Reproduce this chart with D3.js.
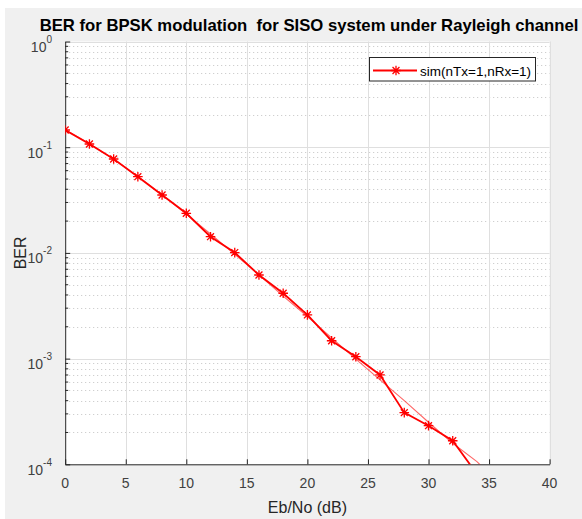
<!DOCTYPE html>
<html>
<head>
<meta charset="utf-8">
<script src="https://cdn.jsdelivr.net/npm/d3@7"></script>
<style>
  body { margin: 0; background: #fff; }
  text { font-family: "Liberation Sans", Arial, sans-serif; }
</style>
</head>
<body>
<svg id="chart" width="582" height="519"></svg>
<script>
// simulated BER
const ebNoSim = [0, 2, 4, 6, 8, 10, 12, 14, 16, 18, 20, 22, 24, 26, 28, 30, 32, 34]
const berSim = [0.1455, 0.1072, 0.0773, 0.0526, 0.0353, 0.0237, 0.01423, 0.01007, 0.00618,
  0.00415, 0.00259, 0.001476, 0.001042, 0.000700, 0.000308, 0.000232, 0.000167, 0.000081]

// theory curve (thin line under the sim one)
const ebNoTheory = [0, 2, 4, 6, 8, 10, 12, 14, 16, 18, 20, 22, 24, 26, 28, 30, 32, 34, 36, 38, 40]
const berTheory = [0.146, 0.1085, 0.0771, 0.053, 0.0355, 0.0233, 0.0151, 0.0097, 0.0062, 0.0039,
  0.0025, 0.00157, 0.00099, 0.00063, 0.0004, 0.00025, 0.000158, 0.000106, 0.000063, 0.00004, 0.000025]

const xTicks = [0, 5, 10, 15, 20, 25, 30, 35, 40]
const yExponents = [-4, -3, -2, -1, 0]

const titleText = "BER for BPSK modulation\u00a0 for SISO system under Rayleigh channel"
const xLabel = "Eb/No (dB)"
const yLabel = "BER"
const legendLabel = "sim(nTx=1,nRx=1)"

const W = 582, H = 519
const m = { left: 65.2, right: 549.6, top: 41.5, bottom: 464.3 }
const axisColor = "#262626"
const red = "#ff0000"

const svg = d3.select("#chart")

// figure background
svg.append("rect").attr("width", W).attr("height", H).attr("fill", "#fff")
svg.append("rect").attr("x", 5).attr("y", 8).attr("width", W - 5).attr("height", H - 8).attr("fill", "#f0f0f0")

const x = d3.scaleLinear().domain([0, 40]).range([m.left, m.right])
const y = d3.scaleLog().domain([1e-4, 1]).range([m.bottom, m.top])

svg.append("rect")
  .attr("x", m.left).attr("y", m.top)
  .attr("width", m.right - m.left).attr("height", m.bottom - m.top)
  .attr("fill", "#fff")

svg.append("clipPath").attr("id", "clip")
  .append("rect")
  .attr("x", m.left).attr("y", m.top)
  .attr("width", m.right - m.left).attr("height", m.bottom - m.top)

// minor log grid (dotted)
const minorVals = []
yExponents.slice(0, -1).forEach(e => {
  for (let k = 2; k <= 9; k++) minorVals.push(k * Math.pow(10, e))
})

const grid = svg.append("g")
grid.selectAll(".minor").data(minorVals).enter().append("line")
  .attr("x1", m.left).attr("x2", m.right)
  .attr("y1", d => Math.round(y(d)) + 0.5).attr("y2", d => Math.round(y(d)) + 0.5)
  .attr("stroke", "#c4c4c4").attr("stroke-dasharray", "1,3")

grid.selectAll(".majY").data(yExponents.slice(1)).enter().append("line")
  .attr("x1", m.left).attr("x2", m.right)
  .attr("y1", d => Math.round(y(Math.pow(10, d))) + 0.5).attr("y2", d => Math.round(y(Math.pow(10, d))) + 0.5)
  .attr("stroke", "#dfdfdf")

grid.selectAll(".majX").data(xTicks.slice(1)).enter().append("line")
  .attr("x1", d => Math.round(x(d)) + 0.5).attr("x2", d => Math.round(x(d)) + 0.5)
  .attr("y1", m.top).attr("y2", m.bottom)
  .attr("stroke", "#dfdfdf")

// axes
const xAxis = d3.axisBottom(x).tickValues(xTicks).tickSizeInner(-5).tickSizeOuter(0).tickFormat("")
svg.append("g").attr("transform", `translate(0,${m.bottom})`).call(xAxis)
  .call(g => g.selectAll("path,line").attr("stroke", axisColor))

const yAxis = d3.axisLeft(y).tickValues(yExponents.map(e => Math.pow(10, e))).tickSizeInner(-5).tickSizeOuter(0).tickFormat("")
svg.append("g").attr("transform", `translate(${m.left},0)`).call(yAxis)
  .call(g => g.selectAll("path,line").attr("stroke", axisColor))

// minor ticks on the y axis
svg.append("g").selectAll("line").data(minorVals).enter().append("line")
  .attr("x1", m.left).attr("x2", m.left + 3)
  .attr("y1", d => y(d)).attr("y2", d => y(d))
  .attr("stroke", axisColor)

// tick labels
svg.append("g").selectAll("text").data(xTicks).enter().append("text")
  .attr("x", d => x(d)).attr("y", m.bottom + 24)
  .attr("text-anchor", "middle").attr("font-size", 14).attr("fill", "#404040")
  .text(d => d)

const yl = svg.append("g").selectAll("text").data(yExponents).enter().append("text")
  .attr("x", 52).attr("y", d => y(Math.pow(10, d)) + 10.5)
  .attr("text-anchor", "end").attr("font-size", 14).attr("fill", "#404040")
yl.append("tspan").text("10")
yl.append("tspan").attr("dy", -9).attr("font-size", 10).text(d => d === 0 ? "0" : "-" + Math.abs(d))

// axis labels and title
svg.append("text").attr("x", (m.left + m.right) / 2).attr("y", m.bottom + 49)
  .attr("text-anchor", "middle").attr("font-size", 16).attr("fill", "#262626").text(xLabel)

svg.append("text").attr("transform", `translate(26,${(m.top + m.bottom) / 2}) rotate(-90)`)
  .attr("text-anchor", "middle").attr("font-size", 16).attr("fill", "#262626").text(yLabel)

svg.append("text").attr("x", 309).attr("y", 31)
  .attr("text-anchor", "middle").attr("font-size", 16.7).attr("font-weight", "bold")
  .attr("fill", "#000").text(titleText)

// curves
const line = d3.line().x(d => x(d[0])).y(d => y(d[1]))
const plot = svg.append("g").attr("clip-path", "url(#clip)")

plot.append("path")
  .datum(d3.zip(ebNoTheory, berTheory))
  .attr("d", line).attr("fill", "none")
  .attr("stroke", red).attr("stroke-width", 1.1).attr("stroke-opacity", 0.6)

const simPts = d3.zip(ebNoSim, berSim)
plot.append("path")
  .datum(simPts)
  .attr("d", line).attr("fill", "none")
  .attr("stroke", red).attr("stroke-width", 1.8)

const r = 4.8, dd = r * 0.72
const star = `M${-r},0H${r}M0,${-r}V${r}M${-dd},${-dd}L${dd},${dd}M${-dd},${dd}L${dd},${-dd}`

plot.selectAll(".mk").data(simPts).enter().append("path")
  .attr("transform", d => `translate(${x(d[0])},${y(d[1])})`)
  .attr("d", star).attr("fill", "none").attr("stroke", red).attr("stroke-width", 1.3)

// legend
const lg = svg.append("g").attr("transform", "translate(369,57)")
lg.append("rect").attr("x", 0.5).attr("y", 0.5).attr("width", 166).attr("height", 23.5)
  .attr("fill", "#fff").attr("stroke", "#262626")
lg.append("line").attr("x1", 4).attr("x2", 48).attr("y1", 13.5).attr("y2", 13.5)
  .attr("stroke", red).attr("stroke-width", 1.8)
lg.append("path").attr("transform", "translate(27,13.5)").attr("d", star)
  .attr("fill", "none").attr("stroke", red).attr("stroke-width", 1.3)
lg.append("text").attr("x", 51).attr("y", 18.5).attr("font-size", 13.5).attr("fill", "#000")
  .text(legendLabel)
</script>
</body>
</html>
